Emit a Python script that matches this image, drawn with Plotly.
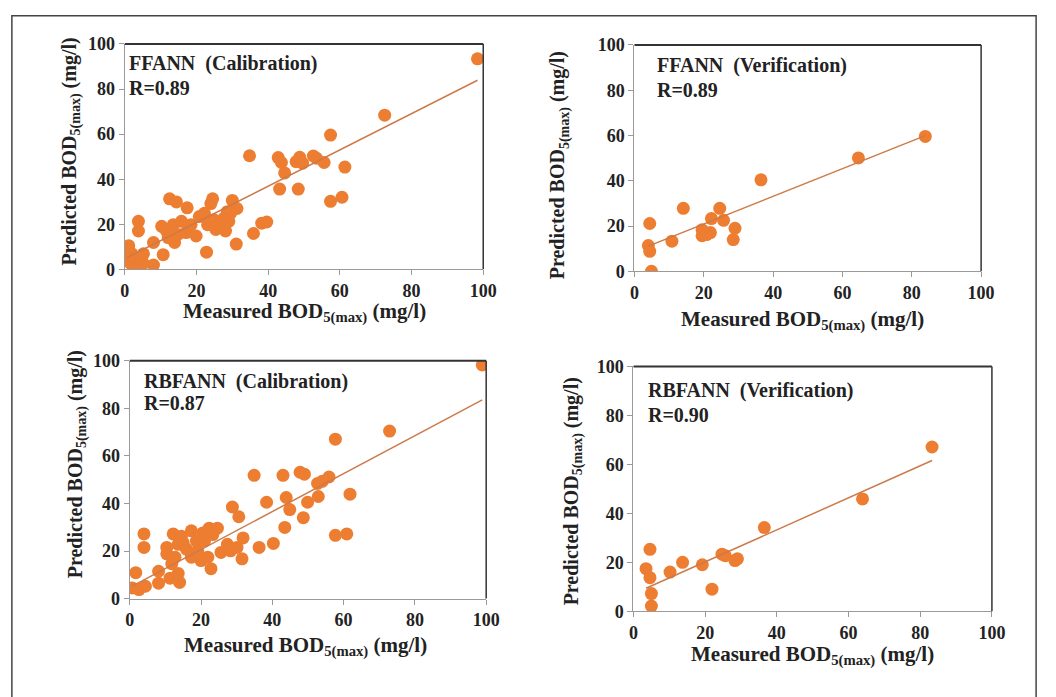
import plotly.graph_objects as go

# ---------------- data ----------------
ffann_cal_x = [98.4, 72.5, 57.4, 34.8, 42.8, 43.7, 44.6, 47.8, 48.8, 49.6, 52.6, 53.5, 55.6, 61.4,
               43.2, 48.4, 57.4, 60.6, 12.5, 14.4, 17.4, 24.5, 24.0, 30.0, 31.3, 28.6, 27.7, 38.2,
               39.6, 35.9, 31.1, 22.8, 10.7, 8.0, 3.8, 3.8, 8.0, 10.3, 11.6, 13.5, 13.9, 15.8, 17.1,
               18.5, 19.9, 20.8, 22.2, 23.1, 24.9, 25.4, 26.7, 28.1, 29.0, 29.5, 14.8, 12.1, 1.1,
               1.6, 3.8, 5.2, 0.6, 2.9, 5.2, 2.0]
ffann_cal_y = [93.4, 68.4, 59.6, 50.4, 49.6, 47.4, 42.8, 47.8, 49.7, 47.1, 50.3, 49.3, 47.4, 45.4,
               35.6, 35.6, 30.2, 32.0, 31.3, 29.9, 27.3, 31.3, 29.2, 30.6, 27.0, 25.6, 22.7, 20.5,
               21.0, 15.9, 11.2, 7.6, 6.5, 1.9, 21.3, 17.0, 11.9, 19.1, 17.0, 19.8, 11.9, 21.3, 16.3,
               19.8, 14.8, 23.4, 24.9, 19.8, 22.0, 17.7, 19.8, 17.0, 21.3, 24.9, 15.5, 14.1, 10.5,
               2.6, 4.0, 6.9, 5.5, 1.9, 2.6, 6.9]

ffann_ver_x = [4.4, 4.0, 4.4, 4.9, 10.8, 14.1, 19.5, 19.5, 21.9, 22.2, 24.6, 25.7, 28.5, 29.0,
               36.5, 64.6, 83.9, 20.8]
ffann_ver_y = [21.1, 11.4, 8.8, 0.0, 13.3, 27.8, 18.3, 15.7, 17.1, 23.3, 27.8, 22.5, 14.0, 19.0,
               40.4, 50.1, 59.6, 16.2]

rbf_cal_x = [98.9, 72.9, 57.7, 34.9, 43.0, 47.8, 49.0, 52.7, 54.0, 55.9, 61.8, 52.9, 43.9, 44.9,
             38.4, 28.8, 30.6, 49.9, 48.7, 43.5, 57.7, 60.9, 40.3, 36.3, 31.8, 25.6, 4.0, 4.0,
             1.7, 8.1, 8.1, 11.3, 14.0, 0.7, 2.6, 4.4, 10.4, 10.4, 12.2, 14.5, 17.3, 13.6, 15.9,
             17.3, 20.0, 21.9, 22.8, 20.5, 22.3, 24.6, 19.1, 27.4, 28.3, 30.1, 31.5, 11.8, 13.6,
             12.7, 15.0, 21.0, 18.7, 23.3]
rbf_cal_y = [98.2, 70.4, 67.0, 51.8, 51.8, 53.1, 52.3, 48.4, 49.3, 51.1, 43.9, 42.9, 42.5, 37.4,
             40.5, 38.5, 34.4, 40.5, 34.0, 29.9, 26.6, 27.2, 23.2, 21.5, 25.5, 19.4, 27.2, 21.5,
             10.9, 11.5, 6.5, 8.6, 6.8, 4.5, 3.8, 5.2, 21.5, 18.8, 27.2, 26.2, 28.5, 22.8, 20.8,
             17.4, 16.0, 17.4, 12.6, 27.6, 29.6, 29.6, 20.1, 22.8, 20.1, 21.5, 16.7, 14.7, 10.6,
             17.4, 23.5, 24.2, 24.2, 26.9]

rbf_ver_x = [3.5, 4.6, 4.6, 5.0, 5.0, 10.2, 13.7, 19.2, 21.9, 24.7, 25.6, 28.3, 29.0, 36.5, 63.9, 83.3]
rbf_ver_y = [17.4, 25.3, 13.7, 7.2, 2.1, 16.0, 20.0, 19.0, 9.0, 23.3, 22.7, 20.7, 21.4, 34.2, 45.9, 67.1]

# trend lines (slope, intercept)
trend = [(0.805, 4.7), (0.611, 8.66), (0.797, 4.7), (0.654, 7.1)]

panel_titles = ["FFANN  (Calibration)", "FFANN  (Verification)",
                "RBFANN  (Calibration)", "RBFANN  (Verification)"]
r_labels = ["R=0.89", "R=0.89", "R=0.87", "R=0.90"]
tick_vals = [0, 20, 40, 60, 80, 100]

series = [(ffann_cal_x, ffann_cal_y), (ffann_ver_x, ffann_ver_y),
          (rbf_cal_x, rbf_cal_y), (rbf_ver_x, rbf_ver_y)]

# ---------------- layout geometry (pixels) ----------------
W, H = 1056, 697
boxes = [(122, 487, 35, 267), (641, 994, 36, 269), (127, 490, 361, 606), (640, 1005, 367, 619)]
xtitle_pos = [(305, 311), (812, 320), (306, 655), (822, 665)]
ytitle_pos = [(67, 146), (565, 160), (73, 468), (578, 496)]
label_pos = [(124, 55, 80), (662, 57, 82), (140, 382, 405), (653, 392, 417)]

FONT = "Liberation Serif"
ORANGE = "#ED7D31"
LINEC = "#CC7A4A"

fig = go.Figure()
layout = dict(width=W, height=H, margin=dict(l=0, r=0, t=0, b=0),
              paper_bgcolor="white", plot_bgcolor="white", showlegend=False,
              annotations=[], shapes=[])

def fx(px):
    return px / W

def fy(py):
    return 1 - py / H

for i, ((xs, ys), (x0, x1, y0, y1)) in enumerate(zip(series, boxes)):
    n = "" if i == 0 else str(i + 1)
    xa, ya = "x" + n, "y" + n
    fig.add_trace(go.Scatter(x=xs, y=ys, mode="markers", xaxis=xa, yaxis=ya,
                             marker=dict(color=ORANGE, size=13, line=dict(width=0))))
    m, b = trend[i]
    lx = [min(xs), max(xs)]
    fig.add_trace(go.Scatter(x=lx, y=[m * v + b for v in lx], mode="lines", xaxis=xa, yaxis=ya,
                             line=dict(color=LINEC, width=1.5)))
    common = dict(range=[0, 100], tickvals=tick_vals, showgrid=False, zeroline=False,
                  showline=True, linecolor="#9a9a9a", linewidth=1.2,
                  ticks="outside", ticklen=5, tickcolor="#9a9a9a",
                  tickfont=dict(family=FONT, size=18, color="#222", weight="bold"))
    layout["xaxis" + n] = dict(common, domain=[fx(x0), fx(x1)], anchor=ya)
    layout["yaxis" + n] = dict(common, domain=[fy(y1), fy(y0)], anchor=xa)
    # darker top and right frame edges
    layout["shapes"].append(dict(type="line", xref=xa + " domain", yref=ya + " domain",
                                 x0=0, x1=1, y0=1, y1=1, line=dict(color="#333", width=2)))
    layout["shapes"].append(dict(type="line", xref=xa + " domain", yref=ya + " domain",
                                 x0=1, x1=1, y0=0, y1=1, line=dict(color="#333", width=1.5)))
    # inner labels
    lx0, ly1, ly2 = label_pos[i]
    layout["annotations"].append(dict(text=panel_titles[i], xref="paper", yref="paper",
                                      x=fx(lx0), y=fy(ly1), xanchor="left", yanchor="middle", showarrow=False,
                                      font=dict(family=FONT, size=20, color="#222", weight="bold")))
    layout["annotations"].append(dict(text=r_labels[i], xref="paper", yref="paper",
                                      x=fx(lx0), y=fy(ly2), xanchor="left", yanchor="middle", showarrow=False,
                                      font=dict(family=FONT, size=20, color="#222", weight="bold")))
    # axis titles
    tx, ty = xtitle_pos[i]
    layout["annotations"].append(dict(text="Measured BOD<sub>5(max)</sub> (mg/l)", xref="paper", yref="paper",
                                      x=fx(tx), y=fy(ty), xanchor="center", yanchor="middle", showarrow=False,
                                      font=dict(family=FONT, size=21, color="#222", weight="bold")))
    vx, vy = ytitle_pos[i]
    layout["annotations"].append(dict(text="Predicted BOD<sub>5(max)</sub> (mg/l)", xref="paper", yref="paper",
                                      x=fx(vx), y=fy(vy), xanchor="center", yanchor="middle", showarrow=False,
                                      textangle=-90,
                                      font=dict(family=FONT, size=20, color="#222", weight="bold")))

# outer frame
layout["shapes"].append(dict(type="rect", xref="paper", yref="paper",
                             x0=fx(7), x1=fx(1050), y0=-0.02, y1=fy(6),
                             line=dict(color="#444", width=1.5)))

fig.update_layout(**layout)
fig.write_html("out.html", config={"displayModeBar": False},
               post_script="document.body.style.margin='0';document.body.style.overflow='hidden';")
